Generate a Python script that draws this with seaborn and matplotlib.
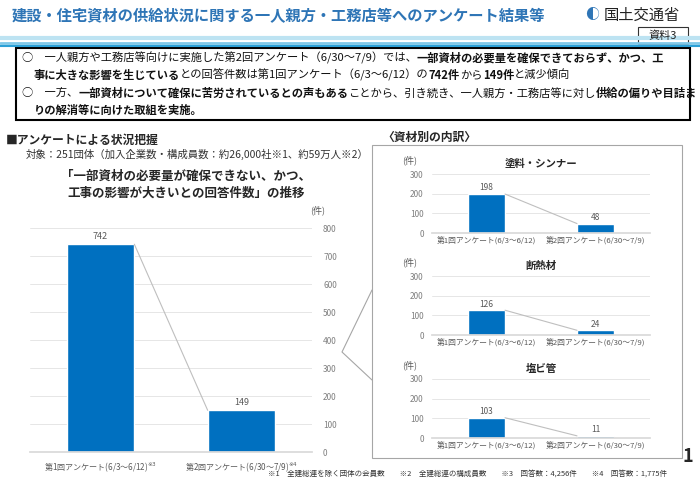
import numpy as np
import pandas as pd
import matplotlib
matplotlib.use("Agg")
import matplotlib.pyplot as plt
import seaborn as sns
from matplotlib.patches import Rectangle

sns.set_theme(style="white")
plt.rcParams['font.family'] = ['Noto Sans CJK JP', 'DejaVu Sans']

# ---------------- data ----------------
rounds = ["第1回アンケート(6/3～6/12)", "第2回アンケート(6/30～7/9)"]
total_counts = [742, 149]
materials = ["塗料・シンナー", "断熱材", "塩ビ管"]
material_counts = [[198, 48], [126, 24], [103, 11]]
main_ticks = [0, 100, 200, 300, 400, 500, 600, 700, 800]
sub_ticks = [0, 100, 200, 300]

BAR = "#0070C0"
TXT = "#595959"
W, H = 700, 486

fig = plt.figure(figsize=(7, 4.86), dpi=100)
fig.patch.set_facecolor("white")


def fx(x):
    return x / W


def fy(y):
    return 1 - y / H


def ax_px(x0, y0, x1, y1):
    a = fig.add_axes([fx(x0), fy(y1), fx(x1 - x0), (y1 - y0) / H])
    a.set_zorder(2)
    a.patch.set_alpha(0)
    return a


# ---------------- header ----------------
fig.text(fx(12), fy(16), "建設・住宅資材の供給状況に関する一人親方・工務店等へのアンケート結果等",
         color="#2E75B6", fontsize=11, fontweight="bold", va="center")
fig.text(fx(604), fy(15), "国土交通省", color="#222222", fontsize=11, va="center")
fig.text(fx(592), fy(15), "◐", color="#2E75B6", fontsize=10, va="center", ha="center")
for yy, c, lw in [(38, "#BDE3F2", 3), (43, "#7FC8E8", 2), (46, "#2CA0D6", 1.5)]:
    fig.add_artist(plt.Line2D([0, 1], [fy(yy), fy(yy)], color=c, lw=lw))
fig.add_artist(Rectangle((fx(638), fy(44)), fx(50), 17 / H, fc="white", ec="#333333", lw=0.8))
fig.text(fx(663), fy(35.5), "資料3", fontsize=8, ha="center", va="center", color="#222222")

# ---------------- summary box ----------------
fig.add_artist(Rectangle((fx(16), fy(120)), fx(674), 72 / H, fc="white", ec="black", lw=1.5))

renderer = fig.canvas.get_renderer()


def segments(x, y, parts, size=8.1):
    for s, bold in parts:
        t = fig.text(fx(x), fy(y), s, fontsize=size, va="center",
                     fontweight="bold" if bold else "normal", color="#111111")
        bb = t.get_window_extent(renderer=renderer)
        x += bb.width


segments(22, 58, [("○　一人親方や工務店等向けに実施した第2回アンケート（6/30～7/9）では、", False),
                  ("一部資材の必要量を確保できておらず、かつ、工", True)])
segments(34, 75, [("事に大きな影響を生じている", True), ("との回答件数は第1回アンケート（6/3～6/12）の", False),
                  ("742件", True), ("から", False), ("149件", True), ("と減少傾向", False)])
segments(22, 93, [("○　一方、", False), ("一部資材について確保に苦労されているとの声もある", True),
                  ("ことから、引き続き、一人親方・工務店等に対し", False), ("供給の偏りや目詰ま", True)])
segments(34, 110, [("りの解消等に向けた取組を実施。", True)])

# ---------------- left section ----------------
fig.text(fx(6), fy(140), "■アンケートによる状況把握", fontsize=8.5, fontweight="bold", va="center")
fig.text(fx(26), fy(154), "対象：251団体（加入企業数・構成員数：約26,000社※1、約59万人※2）",
         fontsize=7.5, va="center", color="#333333")
fig.text(fx(186), fy(185), "「一部資材の必要量が確保できない、かつ、\n工事の影響が大きいとの回答件数」の推移",
         fontsize=9, fontweight="bold", ha="center", va="center", linespacing=1.4)

df_main = pd.DataFrame({"round": rounds, "count": total_counts})
ax = ax_px(30, 228, 312, 452)
sns.barplot(data=df_main, x="round", y="count", color=BAR, width=0.48, ax=ax, saturation=1)
ax.plot([0.24, 0.76], total_counts, color="#BFBFBF", lw=0.8)
for i, v in enumerate(total_counts):
    ax.text(i, v + 12, str(v), ha="center", va="bottom", fontsize=6.5, color=TXT)
ax.set_xlim(-0.5, 1.5)
ax.set_ylim(0, 800)
ax.set_yticks(main_ticks)
ax.yaxis.tick_right()
ax.tick_params(axis="y", labelsize=6, colors="#808080", length=0, pad=8)
ax.set_xticks([0, 1])
ax.set_xticklabels([rounds[0] + "$^{※3}$", rounds[1] + "$^{※4}$"], fontsize=5.8, color=TXT)
ax.tick_params(axis="x", length=0, pad=6)
ax.set_xlabel("")
ax.set_ylabel("")
ax.grid(axis="y", color="#E6E6E6", lw=0.7)
ax.set_axisbelow(True)
for s in ["top", "left", "right"]:
    ax.spines[s].set_visible(False)
ax.spines["bottom"].set_color("#D9D9D9")
fig.text(fx(318), fy(213), "(件)", fontsize=6.5, color=TXT, ha="center")

# chevron pointing to main chart
fig.add_artist(plt.Line2D([fx(372), fx(342), fx(372)], [fy(290), fy(352), fy(380)],
                          color="#A6A6A6", lw=0.8))

# ---------------- right section ----------------
fig.add_artist(Rectangle((fx(372), fy(458)), fx(310), 313 / H, fc="white", ec="#A6A6A6", lw=0.8,
                         zorder=0))
fig.text(fx(382), fy(137), "〈資材別の内訳〉", fontsize=8.5, fontweight="bold", va="center")

tops = [174, 276, 379]
for k, (name, vals) in enumerate(zip(materials, material_counts)):
    y0 = tops[k]
    sub = ax_px(432, y0, 650, y0 + 59)
    d = pd.DataFrame({"round": rounds, "count": vals})
    sns.barplot(data=d, x="round", y="count", color=BAR, width=0.34, ax=sub, saturation=1)
    sub.plot([0.17, 0.83], vals, color="#BFBFBF", lw=0.8)
    for i, v in enumerate(vals):
        sub.text(i, v + 8, str(v), ha="center", va="bottom", fontsize=6, color=TXT)
    sub.set_xlim(-0.5, 1.5)
    sub.set_ylim(0, 300)
    sub.set_yticks(sub_ticks)
    sub.tick_params(axis="y", labelsize=6, colors="#808080", length=0, pad=6)
    sub.set_xticks([0, 1])
    sub.set_xticklabels(rounds, fontsize=5.6, color=TXT)
    sub.tick_params(axis="x", length=0, pad=3)
    sub.set_xlabel("")
    sub.set_ylabel("")
    sub.grid(axis="y", color="#E6E6E6", lw=0.7)
    sub.set_axisbelow(True)
    for s in ["top", "left", "right"]:
        sub.spines[s].set_visible(False)
    sub.spines["bottom"].set_color("#D9D9D9")
    sub.set_title(name, fontsize=7.5, fontweight="bold", pad=5)
    fig.text(fx(410), fy(y0 - 14), "(件)", fontsize=6.5, color=TXT, ha="center", va="center")

# ---------------- footnotes ----------------
fig.text(fx(688), fy(456), "1", fontsize=13, fontweight="bold", ha="center", va="center")
fig.text(fx(268), fy(474), "※1　全建総連を除く団体の会員数　　※2　全建総連の構成員数　　※3　回答数：4,256件　　※4　回答数：1,775件",
         fontsize=5.4, va="center", color="#333333")

fig.savefig("out.png", dpi=100)
